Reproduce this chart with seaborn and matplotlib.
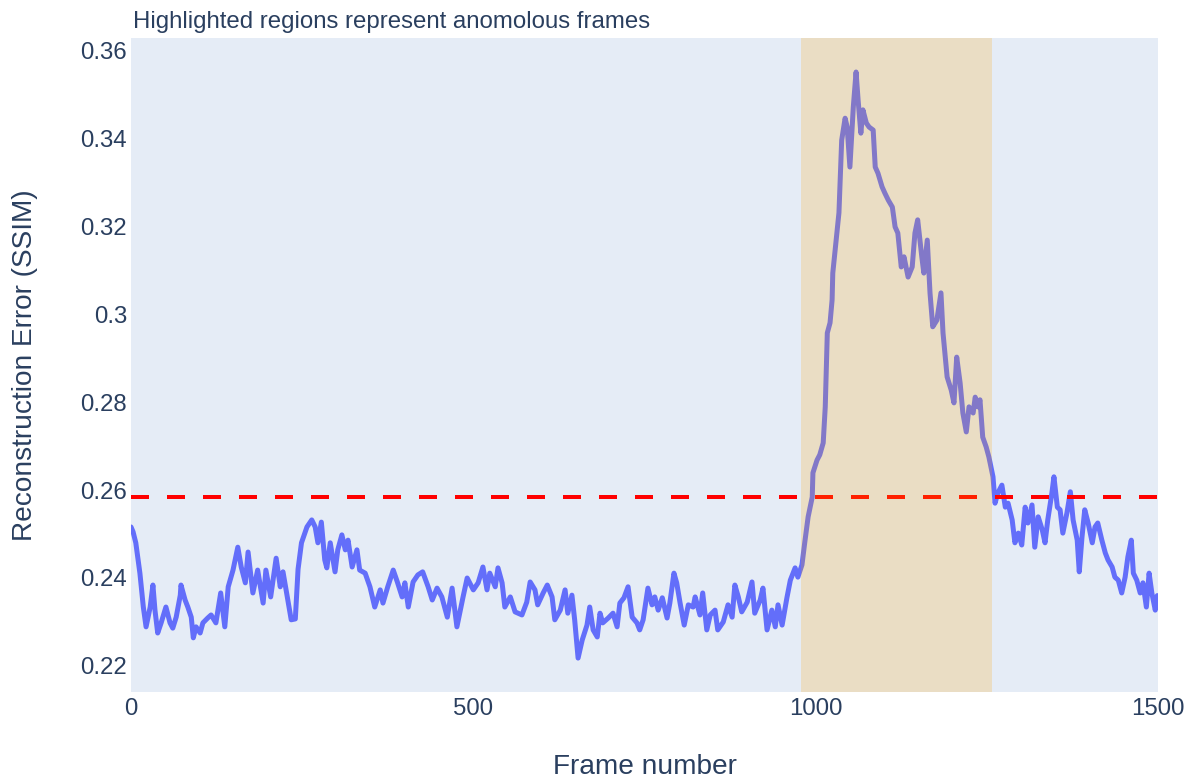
import numpy as np
import pandas as pd
import matplotlib
matplotlib.use("Agg")
import matplotlib.pyplot as plt
import seaborn as sns

# ---- data ----
frames = [0, 3, 7, 13, 18, 22, 28, 32, 35, 39, 44, 51, 57, 61, 66, 72, 73, 79, 83, 88,
          91, 95, 101, 105, 112, 117, 124, 131, 137, 142, 149, 156, 161, 167, 171, 178,
          185, 193, 197, 204, 212, 218, 222, 229, 234, 240, 244, 249, 257, 264, 269, 273,
          278, 283, 286, 291, 298, 302, 308, 313, 317, 323, 330, 334, 342, 349, 356, 364,
          368, 375, 383, 389, 396, 400, 405, 412, 419, 426, 434, 440, 447, 454, 462, 469,
          476, 481, 485, 491, 500, 507, 514, 520, 524, 532, 536, 542, 546, 554, 561, 571,
          578, 583, 590, 594, 602, 608, 615, 619, 627, 634, 638, 644, 648, 653, 659, 666,
          670, 675, 681, 685, 689, 697, 704, 710, 714, 720, 726, 732, 739, 743, 748, 755,
          761, 765, 770, 776, 783, 787, 793, 797, 802, 808, 814, 821, 824, 831, 835, 841,
          846, 853, 857, 865, 872, 878, 882, 887, 892, 900, 907, 911, 919, 923, 929, 936,
          941, 945, 951, 958, 963, 970, 974, 980, 984, 989, 995, 996, 1002, 1006, 1011,
          1014, 1017, 1021, 1024, 1025, 1031, 1034, 1038, 1043, 1046, 1050, 1055, 1059,
          1062, 1066, 1069, 1074, 1078, 1084, 1087, 1091, 1097, 1101, 1106, 1112, 1116,
          1120, 1125, 1129, 1135, 1141, 1145, 1149, 1155, 1158, 1163, 1167, 1171, 1177,
          1183, 1186, 1192, 1198, 1202, 1206, 1211, 1215, 1220, 1224, 1230, 1233, 1237,
          1240, 1244, 1249, 1253, 1259, 1262, 1266, 1272, 1277, 1281, 1287, 1291, 1296,
          1301, 1306, 1310, 1316, 1320, 1325, 1331, 1335, 1339, 1345, 1348, 1353, 1357,
          1361, 1367, 1372, 1376, 1382, 1385, 1389, 1393, 1398, 1404, 1408, 1412, 1418,
          1423, 1427, 1433, 1437, 1442, 1447, 1452, 1456, 1461, 1464, 1469, 1474, 1478,
          1483, 1487, 1491, 1496, 1499]

ssim_error = [0.2516, 0.2505, 0.2480, 0.2411, 0.2334, 0.2289, 0.2334, 0.2384, 0.2327, 0.2275,
              0.2298, 0.2334, 0.2298, 0.2286, 0.2311, 0.2361, 0.2384, 0.2350, 0.2334, 0.2311,
              0.2264, 0.2289, 0.2275, 0.2298, 0.2309, 0.2316, 0.2298, 0.2366, 0.2289, 0.2380,
              0.2418, 0.2470, 0.2425, 0.2389, 0.2459, 0.2366, 0.2418, 0.2343, 0.2418, 0.2357,
              0.2445, 0.2380, 0.2414, 0.2350, 0.2305, 0.2307, 0.2420, 0.2480, 0.2516, 0.2532,
              0.2516, 0.2480, 0.2527, 0.2441, 0.2423, 0.2480, 0.2414, 0.2464, 0.2498, 0.2464,
              0.2486, 0.2425, 0.2464, 0.2418, 0.2411, 0.2380, 0.2334, 0.2373, 0.2343, 0.2380,
              0.2418, 0.2391, 0.2357, 0.2389, 0.2334, 0.2391, 0.2407, 0.2414, 0.2380, 0.2350,
              0.2377, 0.2357, 0.2311, 0.2377, 0.2289, 0.2327, 0.2357, 0.2400, 0.2373, 0.2389,
              0.2425, 0.2373, 0.2411, 0.2380, 0.2423, 0.2389, 0.2334, 0.2357, 0.2323, 0.2316,
              0.2345, 0.2391, 0.2373, 0.2339, 0.2366, 0.2384, 0.2357, 0.2305, 0.2327, 0.2373,
              0.2320, 0.2361, 0.2305, 0.2218, 0.2259, 0.2293, 0.2334, 0.2282, 0.2266, 0.2320,
              0.2298, 0.2309, 0.2320, 0.2289, 0.2343, 0.2355, 0.2380, 0.2311, 0.2298, 0.2282,
              0.2305, 0.2377, 0.2339, 0.2357, 0.2327, 0.2355, 0.2309, 0.2343, 0.2411, 0.2389,
              0.2343, 0.2293, 0.2339, 0.2334, 0.2357, 0.2316, 0.2366, 0.2282, 0.2316, 0.2327,
              0.2282, 0.2300, 0.2339, 0.2311, 0.2384, 0.2357, 0.2323, 0.2345, 0.2391, 0.2320,
              0.2350, 0.2377, 0.2282, 0.2327, 0.2289, 0.2339, 0.2293, 0.2355, 0.2395, 0.2423,
              0.2402, 0.2430, 0.2480, 0.2539, 0.2584, 0.2639, 0.2668, 0.2680, 0.2707, 0.2789,
              0.2957, 0.2980, 0.3032, 0.3093, 0.3184, 0.3230, 0.3395, 0.3445, 0.3425, 0.3334,
              0.3471, 0.3550, 0.3486, 0.3411, 0.3464, 0.3434, 0.3425, 0.3418, 0.3334, 0.3320,
              0.3289, 0.3275, 0.3259, 0.3243, 0.3198, 0.3184, 0.3107, 0.3130, 0.3084, 0.3107,
              0.3184, 0.3214, 0.3130, 0.3093, 0.3168, 0.3048, 0.2971, 0.2986, 0.3048, 0.2957,
              0.2857, 0.2827, 0.2798, 0.2902, 0.2843, 0.2775, 0.2732, 0.2789, 0.2775, 0.2811,
              0.2789, 0.2805, 0.2720, 0.2698, 0.2675, 0.2630, 0.2570, 0.2593, 0.2611, 0.2561,
              0.2570, 0.2532, 0.2480, 0.2502, 0.2475, 0.2561, 0.2525, 0.2566, 0.2470, 0.2539,
              0.2509, 0.2480, 0.2532, 0.2593, 0.2630, 0.2561, 0.2555, 0.2502, 0.2548, 0.2596,
              0.2532, 0.2486, 0.2414, 0.2493, 0.2555, 0.2525, 0.2480, 0.2516, 0.2525, 0.2486,
              0.2457, 0.2441, 0.2425, 0.2402, 0.2395, 0.2366, 0.2402, 0.2448, 0.2486, 0.2411,
              0.2395, 0.2366, 0.2389, 0.2334, 0.2411, 0.2366, 0.2327, 0.2360]

threshold = 0.2584
anomaly_start, anomaly_end = 978, 1258
x_ticks = [0, 500, 1000, 1500]
y_ticks = [0.22, 0.24, 0.26, 0.28, 0.30, 0.32, 0.34, 0.36]
y_tick_labels = ["0.22", "0.24", "0.26", "0.28", "0.3", "0.32", "0.34", "0.36"]

title_text = "Highlighted regions represent anomolous frames"
x_title = "Frame number"
y_title = "Reconstruction Error (SSIM)"

df = pd.DataFrame({"frame": frames, "error": ssim_error})

# ---- styling ----
sns.set_style("white")
plt.rcParams["font.family"] = ["Liberation Sans", "DejaVu Sans"]
TXT = "#2a3f5f"
W, H = 1192, 780
fig = plt.figure(figsize=(W / 100, H / 100), dpi=100)
ax = fig.add_axes([131 / W, 1 - 692 / H, (1158 - 131) / W, (692 - 38) / H])
ax.set_facecolor("#E5ECF6")

px = 72 / 100  # points per pixel
sns.lineplot(data=df, x="frame", y="error", ax=ax, color="#636EFA",
             linewidth=5 * px, zorder=2)
ax.axhline(threshold, color="red", linewidth=4 * px, dashes=(4.5, 4.5), zorder=3)
ax.axvspan(anomaly_start, anomaly_end, color="orange", alpha=0.2, linewidth=0, zorder=4)

ax.set_xlim(0, 1500)
ax.set_ylim(0.21409, 0.36273)
ax.set_xticks(x_ticks)
ax.set_xticklabels([str(t) for t in x_ticks])
ax.set_yticks(y_ticks)
ax.set_yticklabels(y_tick_labels)
ax.tick_params(axis="both", length=0, labelsize=24 * px, colors=TXT)
ax.tick_params(axis="y", pad=4 * px)
ax.tick_params(axis="x", pad=6 * px)
ax.grid(False)
for s in ax.spines.values():
    s.set_visible(False)
ax.set_xlabel("")
ax.set_ylabel("")

fig.text(133 / W, 1 - 28 / H, title_text, fontsize=24 * px, color=TXT,
         ha="left", va="baseline")
fig.text(644.5 / W, 1 - 774 / H, x_title, fontsize=28 * px, color=TXT,
         ha="center", va="baseline")
fig.text(32 / W, 1 - 365 / H, y_title, fontsize=28 * px, color=TXT,
         ha="center", va="baseline", rotation=90, rotation_mode="anchor")

fig.savefig("out.png", dpi=100, facecolor="white")
